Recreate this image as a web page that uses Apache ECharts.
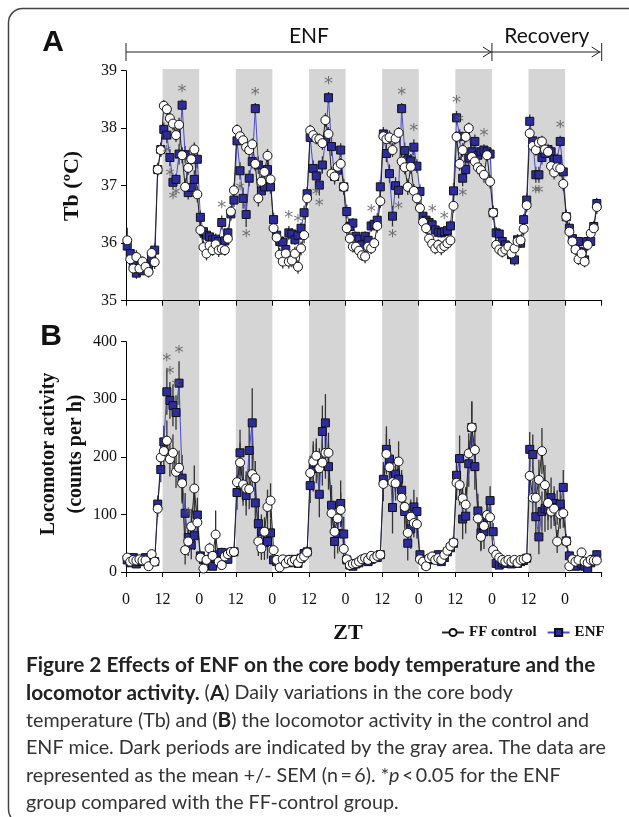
<!DOCTYPE html>
<html>
<head>
<meta charset="utf-8">
<script src="https://cdn.jsdelivr.net/npm/echarts@6/dist/echarts.min.js"></script>
<style>
html, body { margin: 0; padding: 0; background: #fff; }
#chart { width: 629px; height: 817px; }
</style>
</head>
<body>
<div id="chart"></div>
<script>
// hourly means, ZT 0 .. 154 (one value per hour, 12 per line = light / dark halves)
var tbENF = [
    35.95, 35.82, 35.64, 35.48, 35.56, 35.52, 35.59, 35.55, 35.74, 35.88, 37.28, 37.63,
    37.98, 37.88, 37.49, 37.06, 37.11, 37.55, 38.40, 37.54, 36.88, 36.97, 37.11, 37.46,
    36.45, 36.20, 36.14, 36.11, 36.06, 36.07, 36.03, 36.36, 36.04, 36.18, 36.51, 36.75,
    37.78, 37.26, 36.78, 36.50, 37.13, 37.42, 38.34, 37.36, 36.91, 36.98, 37.28, 36.98,
    36.41, 36.14, 36.03, 36.02, 35.89, 36.18, 36.16, 36.06, 36.14, 36.26, 36.53, 36.86,
    37.84, 37.30, 37.17, 37.01, 37.36, 37.79, 38.53, 37.68, 37.16, 37.27, 37.62, 36.98,
    36.55, 36.29, 36.35, 36.12, 36.07, 35.97, 36.12, 36.05, 36.30, 36.33, 36.40, 36.98,
    37.90, 37.56, 37.21, 36.47, 37.00, 36.92, 38.34, 37.61, 37.45, 37.43, 37.67, 37.34,
    36.90, 36.47, 36.40, 36.36, 36.32, 36.23, 36.19, 36.18, 36.20, 36.22, 36.30, 36.91,
    38.18, 37.86, 37.13, 37.28, 37.48, 37.59, 37.77, 37.53, 37.59, 37.62, 37.59, 37.55,
    36.53, 36.18, 36.16, 36.03, 35.97, 35.91, 35.80, 35.71, 36.06, 36.00, 36.41, 36.75,
    38.12, 37.78, 37.19, 37.19, 37.49, 37.56, 37.63, 37.59, 37.46, 37.46, 37.77, 37.24,
    36.46, 36.26, 36.08, 35.91, 36.03, 35.85, 35.71, 36.03, 36.03, 36.29, 36.69
]
var tbFF = [
    36.05, 35.72, 35.56, 35.76, 35.56, 35.68, 35.59, 35.50, 35.83, 35.67, 37.28, 37.62,
    38.39, 38.33, 38.17, 38.08, 37.88, 38.06, 37.53, 36.98, 37.31, 37.46, 37.63, 36.85,
    36.23, 35.93, 35.82, 35.96, 35.88, 35.98, 35.88, 35.90, 35.88, 36.08, 36.55, 36.92,
    37.97, 37.86, 37.79, 37.67, 37.62, 37.72, 37.38, 36.78, 37.07, 37.24, 37.52, 37.11,
    36.26, 36.10, 35.80, 35.68, 35.82, 35.68, 35.70, 35.82, 35.59, 35.91, 36.14, 36.78,
    37.96, 37.88, 37.82, 37.81, 37.74, 38.14, 37.90, 37.21, 37.16, 37.33, 37.38, 36.98,
    36.26, 36.08, 35.94, 35.94, 35.87, 35.79, 35.77, 35.94, 35.91, 36.00, 36.30, 36.73,
    37.86, 37.81, 37.84, 37.62, 37.82, 37.92, 37.42, 37.32, 36.98, 37.33, 36.91, 36.78,
    36.61, 36.37, 36.26, 36.08, 35.99, 35.91, 35.97, 35.91, 35.95, 36.00, 36.05, 36.65,
    37.85, 37.38, 37.62, 37.85, 38.00, 37.50, 37.42, 37.32, 37.27, 37.19, 37.53, 37.07,
    36.53, 35.97, 35.89, 35.85, 35.89, 35.94, 35.82, 35.91, 36.03, 36.05, 36.25, 36.66,
    37.91, 37.69, 37.62, 37.75, 37.77, 37.63, 37.59, 37.34, 37.23, 37.32, 37.30, 37.03,
    36.46, 36.20, 36.03, 35.89, 35.72, 35.82, 35.68, 35.97, 36.17, 36.26, 36.63
]
var tbSemENF = [
    0.10, 0.08, 0.09, 0.10, 0.08, 0.07, 0.08, 0.09, 0.10, 0.12, 0.10, 0.12,
    0.12, 0.14, 0.15, 0.12, 0.10, 0.18, 0.10, 0.15, 0.12, 0.14, 0.16, 0.15,
    0.12, 0.10, 0.10, 0.08, 0.09, 0.10, 0.08, 0.12, 0.10, 0.09, 0.12, 0.12,
    0.12, 0.15, 0.18, 0.22, 0.14, 0.12, 0.10, 0.15, 0.18, 0.14, 0.12, 0.12,
    0.12, 0.10, 0.09, 0.10, 0.12, 0.12, 0.10, 0.09, 0.10, 0.10, 0.12, 0.12,
    0.10, 0.14, 0.16, 0.18, 0.15, 0.12, 0.10, 0.16, 0.14, 0.12, 0.12, 0.14,
    0.12, 0.10, 0.09, 0.08, 0.10, 0.08, 0.09, 0.08, 0.10, 0.08, 0.12, 0.12,
    0.12, 0.15, 0.16, 0.18, 0.15, 0.14, 0.10, 0.14, 0.15, 0.12, 0.14, 0.12,
    0.12, 0.10, 0.08, 0.08, 0.08, 0.09, 0.08, 0.08, 0.09, 0.08, 0.10, 0.14,
    0.12, 0.12, 0.14, 0.15, 0.12, 0.10, 0.12, 0.12, 0.10, 0.10, 0.10, 0.10,
    0.12, 0.10, 0.08, 0.08, 0.09, 0.08, 0.10, 0.10, 0.10, 0.08, 0.10, 0.12,
    0.12, 0.12, 0.14, 0.14, 0.12, 0.12, 0.10, 0.10, 0.12, 0.10, 0.10, 0.12,
    0.12, 0.10, 0.08, 0.10, 0.08, 0.09, 0.10, 0.10, 0.08, 0.10, 0.10
]
var tbSemFF = [
    0.22, 0.10, 0.09, 0.12, 0.10, 0.09, 0.08, 0.10, 0.10, 0.12, 0.12, 0.12,
    0.10, 0.10, 0.12, 0.12, 0.12, 0.12, 0.14, 0.15, 0.12, 0.12, 0.12, 0.14,
    0.14, 0.12, 0.12, 0.10, 0.10, 0.10, 0.12, 0.10, 0.10, 0.10, 0.10, 0.12,
    0.10, 0.10, 0.12, 0.12, 0.12, 0.10, 0.12, 0.14, 0.12, 0.12, 0.12, 0.12,
    0.12, 0.12, 0.12, 0.12, 0.10, 0.12, 0.12, 0.12, 0.12, 0.12, 0.14, 0.12,
    0.10, 0.10, 0.10, 0.10, 0.12, 0.12, 0.12, 0.12, 0.10, 0.10, 0.10, 0.12,
    0.12, 0.12, 0.10, 0.10, 0.10, 0.10, 0.12, 0.10, 0.10, 0.10, 0.12, 0.12,
    0.10, 0.10, 0.12, 0.12, 0.10, 0.10, 0.12, 0.12, 0.14, 0.12, 0.12, 0.12,
    0.12, 0.10, 0.10, 0.10, 0.10, 0.10, 0.10, 0.12, 0.10, 0.10, 0.12, 0.12,
    0.10, 0.12, 0.12, 0.10, 0.10, 0.12, 0.12, 0.12, 0.12, 0.14, 0.10, 0.12,
    0.12, 0.10, 0.10, 0.10, 0.10, 0.10, 0.10, 0.10, 0.10, 0.10, 0.12, 0.12,
    0.10, 0.10, 0.10, 0.10, 0.10, 0.10, 0.10, 0.12, 0.12, 0.12, 0.10, 0.12,
    0.12, 0.10, 0.10, 0.10, 0.10, 0.10, 0.10, 0.10, 0.10, 0.10, 0.12
]
var actENF = [
    21, 16, 25, 14, 18, 22, 25, 18, 22, 18, 118, 178,
    226, 313, 298, 289, 277, 328, 163, 102, 60, 47, 63, 99,
    28, 21, 20, 12, 10, 24, 30, 34, 24, 22, 34, 35,
    138, 207, 150, 133, 211, 259, 120, 84, 70, 51, 53, 68,
    21, 18, 12, 18, 21, 16, 22, 18, 15, 24, 32, 35,
    150, 180, 189, 135, 244, 259, 183, 116, 53, 67, 119, 66,
    21, 12, 10, 14, 16, 20, 21, 18, 22, 27, 25, 30,
    161, 213, 196, 112, 170, 161, 142, 105, 50, 75, 113, 105,
    30, 21, 12, 21, 22, 27, 30, 18, 25, 35, 42, 50,
    168, 197, 92, 97, 188, 251, 183, 106, 68, 70, 95, 124,
    70, 15, 12, 16, 15, 18, 14, 16, 15, 18, 20, 24,
    213, 204, 96, 61, 105, 110, 108, 129, 119, 112, 118, 147,
    54, 28, 21, 10, 18, 14, 10, 6, 16, 22, 30
]
var actFF = [
    25, 18, 21, 20, 22, 20, 20, 10, 31, 18, 110, 199,
    210, 228, 196, 207, 174, 181, 154, 38, 53, 79, 145, 86,
    25, 6, 21, 41, 28, 65, 18, 12, 27, 31, 35, 35,
    156, 190, 152, 145, 144, 170, 163, 53, 41, 70, 113, 124,
    38, 21, 8, 22, 15, 21, 18, 21, 16, 24, 27, 34,
    172, 192, 202, 180, 190, 207, 207, 102, 70, 93, 108, 40,
    22, 12, 14, 15, 18, 22, 24, 21, 28, 24, 28, 30,
    153, 205, 182, 156, 154, 192, 129, 113, 68, 96, 85, 83,
    22, 18, 10, 24, 27, 21, 24, 21, 30, 37, 45, 51,
    155, 151, 128, 117, 206, 251, 212, 93, 61, 80, 99, 95,
    38, 30, 25, 21, 18, 21, 18, 21, 16, 21, 22, 24,
    167, 129, 129, 160, 210, 151, 120, 105, 110, 53, 100, 102,
    53, 10, 22, 18, 21, 34, 18, 16, 21, 20, 20
]
var actSemENF = [
    5, 5, 6, 5, 6, 6, 5, 5, 6, 6, 15, 22,
    28, 40, 32, 36, 30, 38, 40, 35, 25, 25, 25, 30,
    8, 6, 6, 5, 5, 8, 8, 8, 6, 6, 8, 8,
    30, 40, 35, 35, 50, 60, 45, 35, 30, 30, 30, 25,
    6, 5, 5, 5, 6, 5, 6, 5, 5, 6, 8, 10,
    30, 40, 35, 40, 45, 50, 40, 35, 30, 35, 40, 30,
    6, 5, 5, 5, 5, 6, 6, 5, 6, 8, 8, 8,
    30, 40, 35, 45, 30, 35, 35, 30, 30, 35, 30, 25,
    8, 6, 5, 5, 6, 8, 8, 6, 6, 8, 10, 12,
    30, 40, 35, 30, 40, 45, 40, 30, 30, 30, 30, 25,
    15, 6, 5, 5, 5, 6, 5, 5, 5, 6, 6, 8,
    30, 35, 35, 30, 35, 40, 35, 35, 30, 30, 30, 30,
    12, 8, 6, 5, 6, 5, 5, 5, 6, 8, 8
]
var actSemFF = [
    6, 5, 5, 6, 5, 6, 5, 5, 6, 5, 14, 25,
    30, 35, 30, 32, 28, 30, 35, 25, 25, 30, 40, 30,
    6, 5, 6, 10, 8, 42, 6, 6, 8, 8, 8, 8,
    30, 35, 30, 30, 35, 30, 30, 25, 20, 25, 30, 30,
    8, 6, 5, 6, 5, 6, 5, 6, 5, 6, 8, 8,
    30, 35, 30, 35, 40, 45, 35, 30, 25, 30, 30, 15,
    6, 5, 5, 5, 5, 6, 6, 5, 6, 6, 8, 8,
    30, 35, 30, 35, 30, 35, 30, 30, 25, 30, 25, 25,
    6, 5, 5, 6, 8, 6, 6, 6, 8, 10, 10, 12,
    30, 35, 30, 30, 35, 45, 40, 30, 25, 25, 25, 25,
    10, 8, 6, 6, 5, 6, 5, 6, 5, 6, 6, 8,
    30, 30, 30, 35, 40, 35, 30, 30, 30, 20, 25, 25,
    10, 5, 6, 5, 6, 8, 5, 5, 6, 6, 6
]
// gray = dark phase (ZT 12-24 of each day)
var darkPeriods = [[12, 24], [36, 48], [60, 72], [84, 96], [108, 120], [132, 144]]
// hours with p<0.05, and whether the star sits above or below the ENF point
var sigTb = [[13, 'bottom'], [14, 'bottom'], [15, 'bottom'], [16, 'bottom'], [18, 'top'], [31, 'top'],
    [37, 'bottom'], [39, 'bottom'], [42, 'top'], [53, 'top'], [56, 'top'], [62, 'bottom'], [63, 'bottom'],
    [66, 'top'], [80, 'top'], [87, 'bottom'], [89, 'bottom'], [90, 'top'], [94, 'top'], [100, 'top'],
    [104, 'top'], [108, 'top'], [109, 'top'], [110, 'bottom'], [117, 'top'], [134, 'bottom'],
    [135, 'bottom'], [142, 'top']]
var sigAct = [[13, 'top'], [14, 'top'], [16, 'top'], [17, 'top'], [20, 'top']]
var xTickLabels = ['0', '12', '0', '12', '0', '12', '0', '12', '0', '12', '0', '12', '0', '']

var serif = 'Liberation Serif'
var sans = 'Lato'
var hourPos = 0.4 // points sit a little after the start of each hour

function pairs(means, sems) {
    return means.map(function (v, i) {
        return [i + hourPos, v, sems[i]]
    })
}

function errorBars(idx, means, sems) {
    return {
        type: 'custom',
        xAxisIndex: idx, yAxisIndex: idx,
        silent: true,
        encode: {x: 0, y: 1},
        data: pairs(means, sems),
        renderItem: function (params, api) {
            var x = api.value(0), v = api.value(1), s = api.value(2)
            var a = api.coord([x, v + s]), b = api.coord([x, v - s])
            return {
                type: 'line',
                shape: {x1: a[0], y1: a[1], x2: b[0], y2: b[1]},
                style: {stroke: '#333', lineWidth: 1.3}
            }
        }
    }
}

function ffLine(idx, means) {
    return {
        name: 'FF control', type: 'line',
        xAxisIndex: idx, yAxisIndex: idx,
        data: means.map(function (v, i) { return [i + hourPos, v] }),
        symbol: 'circle', symbolSize: 9,
        itemStyle: {color: '#fff', borderColor: '#111', borderWidth: 1},
        lineStyle: {color: '#222', width: 1},
        animation: false
    }
}

function enfLine(idx, means) {
    return {
        name: 'ENF', type: 'line',
        xAxisIndex: idx, yAxisIndex: idx,
        data: means.map(function (v, i) { return [i + hourPos, v] }),
        symbol: 'rect', symbolSize: 8,
        itemStyle: {color: '#2c2c9c', borderColor: '#111', borderWidth: 1},
        lineStyle: {color: '#4b4bcc', width: 1},
        animation: false
    }
}

function stars(idx, sig, means, sems) {
    return {
        type: 'scatter',
        xAxisIndex: idx, yAxisIndex: idx,
        symbolSize: 1,
        itemStyle: {color: 'rgba(0,0,0,0)'},
        silent: true,
        z: 6,
        data: sig.map(function (s) {
            var h = s[0], up = s[1] === 'top'
            return {
                value: [h + hourPos, up ? means[h] + sems[h] : means[h] - sems[h]],
                label: {position: up ? 'top' : 'bottom', distance: up ? -2 : 1}
            }
        }),
        label: {
            show: true, formatter: '*',
            color: '#555', fontSize: 18, fontFamily: 'DejaVu Sans'
        },
        animation: false
    }
}

function xAxisOf(idx, showLabels) {
    return {
        gridIndex: idx, type: 'value', min: 0, max: 156, interval: 12, z: 3,
        axisLine: {show: true, onZero: false, lineStyle: {color: '#000', width: 1}},
        axisTick: {show: true, length: 5, lineStyle: {color: '#000'}},
        axisLabel: {
            show: showLabels, margin: 20, color: '#111', fontFamily: serif, fontSize: 16,
            formatter: function (v) { return xTickLabels[Math.round(v / 12)] }
        },
        splitLine: {show: false}
    }
}

function yAxisOf(idx, min, max, interval) {
    return {
        gridIndex: idx, type: 'value', min: min, max: max, interval: interval, z: 3,
        axisLine: {show: true, onZero: false, lineStyle: {color: '#000', width: 1}},
        axisTick: {show: true, length: 5, lineStyle: {color: '#000'}},
        axisLabel: {margin: 9, color: '#111', fontFamily: serif, fontSize: 16},
        splitLine: {show: false}
    }
}

var chart = echarts.init(document.getElementById('chart'), null, {renderer: 'canvas'})

chart.setOption({
    backgroundColor: '#fff',
    animation: false,
    grid: [
        {left: 126, top: 70.7, width: 475.7, height: 230},
        {left: 126, top: 341.7, width: 475.7, height: 230.3},
        {left: 126, top: 69, width: 475.7, height: 503}
    ],
    xAxis: [
        xAxisOf(0, false),
        xAxisOf(1, true),
        {gridIndex: 2, type: 'value', min: 0, max: 156, show: false}
    ],
    yAxis: [
        yAxisOf(0, 35, 39, 1),
        yAxisOf(1, 0, 400, 100),
        {gridIndex: 2, type: 'value', min: 0, max: 1, show: false}
    ],
    legend: {
        data: ['FF control', 'ENF'],
        left: 436, top: 620,
        itemWidth: 22, itemHeight: 9, itemGap: 10,
        textStyle: {fontFamily: serif, fontWeight: 'bold', fontSize: 15, color: '#111'}
    },
    series: [
        {
            // gray bands behind both panels
            type: 'custom', xAxisIndex: 2, yAxisIndex: 2, z: 0, silent: true,
            data: darkPeriods,
            renderItem: function (params, api) {
                var a = api.coord([api.value(0), 1]), b = api.coord([api.value(1), 0])
                return {
                    type: 'rect',
                    shape: {x: a[0], y: a[1], width: b[0] - a[0], height: b[1] - a[1]},
                    style: {fill: '#d5d5d5'}
                }
            }
        },
        errorBars(0, tbENF, tbSemENF),
        errorBars(0, tbFF, tbSemFF),
        enfLine(0, tbENF),
        ffLine(0, tbFF),
        stars(0, sigTb, tbENF, tbSemENF),
        errorBars(1, actENF, actSemENF),
        errorBars(1, actFF, actSemFF),
        enfLine(1, actENF),
        ffLine(1, actFF),
        stars(1, sigAct, actENF, actSemENF)
    ]
})

// the ENF / Recovery brackets above panel A follow the x scale
var xStart = chart.convertToPixel({gridIndex: 0}, [0, 39])[0]
var xSwitch = chart.convertToPixel({gridIndex: 0}, [120, 39])[0]
var xEnd = chart.convertToPixel({gridIndex: 0}, [156, 39])[0]
var arrowY = 52

function bar(x) {
    return {type: 'line', shape: {x1: x, y1: arrowY - 9, x2: x, y2: arrowY + 9}, style: {stroke: '#222', lineWidth: 1}}
}
function head(x) {
    return {type: 'polyline', shape: {points: [[x - 8, arrowY - 5], [x, arrowY], [x - 8, arrowY + 5]]}, style: {stroke: '#222', lineWidth: 1, fill: null}}
}

// caption: bold runs set a bit larger than the regular text, as in the figure
var capSize = 19.7, capBold = 20.8
function capLine(y, text) {
    return {
        type: 'text', left: 26, top: y,
        style: {
            text: text, fontFamily: sans, fontSize: capSize, fill: '#333',
            rich: {
                b: {fontFamily: sans, fontSize: capBold, fontWeight: 'bold', fill: '#222'},
                i: {fontFamily: sans, fontSize: capSize, fontStyle: 'italic', fill: '#333'}
            }
        }
    }
}

chart.setOption({
    graphic: [
        // frame
        {type: 'rect', shape: {x: 8.5, y: 8.5, width: 700, height: 815, r: 14}, style: {fill: null, stroke: '#444', lineWidth: 1.5}, z: 0},
        {type: 'text', x: 53, y: 43, style: {text: 'A', fontFamily: 'Liberation Sans', fontWeight: 'bold', fontSize: 30, fill: '#111', align: 'center', verticalAlign: 'middle'}},
        {type: 'text', x: 51, y: 337, style: {text: 'B', fontFamily: 'Liberation Sans', fontWeight: 'bold', fontSize: 30, fill: '#111', align: 'center', verticalAlign: 'middle'}},
        {type: 'line', shape: {x1: xStart, y1: arrowY, x2: xEnd - 1, y2: arrowY}, style: {stroke: '#222', lineWidth: 1}},
        bar(xStart), bar(xSwitch), bar(xEnd),
        head(xSwitch - 1), head(xEnd - 2),
        {type: 'text', x: (xStart + xSwitch) / 2, y: 36, style: {text: 'ENF', fontFamily: sans, fontSize: 21, fill: '#111', align: 'center', verticalAlign: 'middle'}},
        {type: 'text', x: (xSwitch + xEnd) / 2, y: 36, style: {text: 'Recovery', fontFamily: sans, fontSize: 21, fill: '#111', align: 'center', verticalAlign: 'middle'}},
        // axis titles
        {type: 'text', x: 72, y: 186, rotation: Math.PI / 2, style: {text: 'Tb (ºC)', fontFamily: serif, fontWeight: 'bold', fontSize: 22, fill: '#111', align: 'center', verticalAlign: 'middle'}},
        {type: 'text', x: 62, y: 454, rotation: Math.PI / 2, style: {text: 'Locomotor activity\n(counts per h)', fontFamily: serif, fontWeight: 'bold', fontSize: 20, lineHeight: 27, fill: '#111', align: 'center', verticalAlign: 'middle'}},
        {type: 'text', x: 348, y: 633, style: {text: 'ZT', fontFamily: serif, fontWeight: 'bold', fontSize: 22, fill: '#111', align: 'center', verticalAlign: 'middle'}},
        // caption
        capLine(655, '{b|Figure 2 Effects of ENF on the core body temperature and the}'),
        capLine(682.6, '{b|locomotor activity.} ({b|A}) Daily variations in the core body'),
        capLine(710.2, 'temperature (Tb) and ({b|B}) the locomotor activity in the control and'),
        capLine(737.8, 'ENF mice. Dark periods are indicated by the gray area. The data are'),
        capLine(765.4, 'represented as the mean +/- SEM (n\u2009=\u20096). *{i|p}\u2009<\u20090.05 for the ENF'),
        capLine(793, 'group compared with the FF-control group.')
    ]
})
</script>
</body>
</html>
